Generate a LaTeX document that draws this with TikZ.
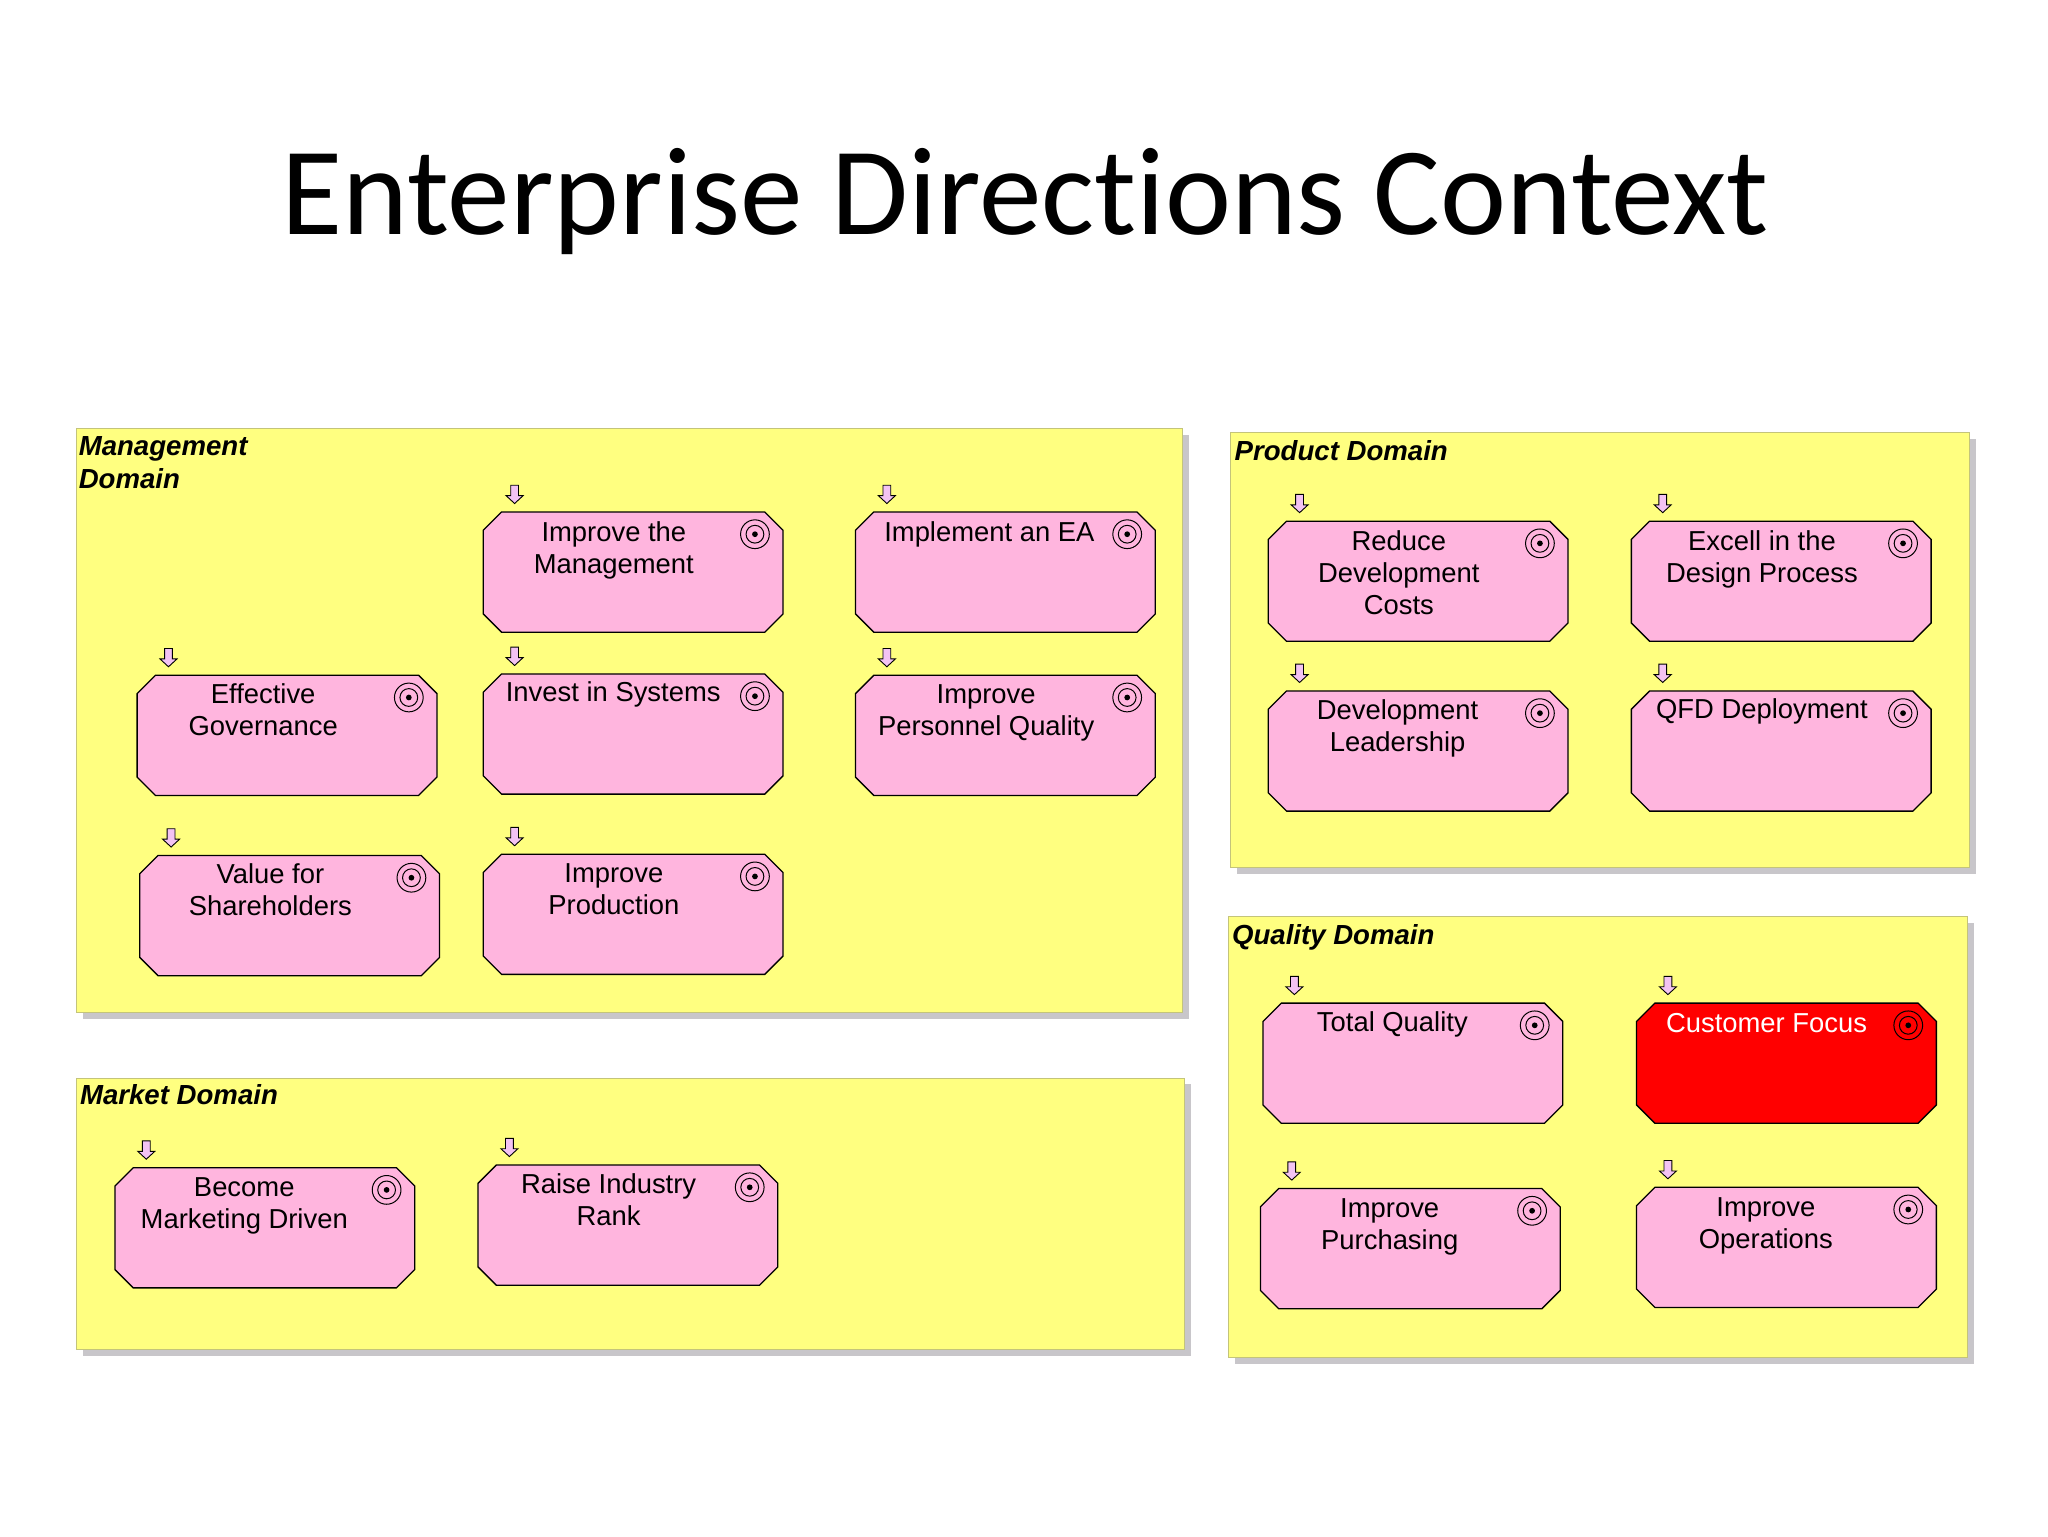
\documentclass[tikz,border=0pt]{standalone}
\usepackage{fontspec}
\setmainfont{Liberation Sans}
\newfontfamily\titlefont[Ligatures=NoCommon]{Carlito}
\definecolor{domainfill}{HTML}{FFFF80}
\definecolor{domainshadow}{HTML}{C8C6CA}
\definecolor{domainedge}{HTML}{C4C47A}
\definecolor{goalpink}{HTML}{FFB5DE}
\definecolor{arrowpink}{HTML}{F3C3F3}
\definecolor{goalred}{HTML}{FF0000}
\tikzset{
  x=0.65306pt,y=-0.65306pt,
  domainbox/.style={draw=domainedge,line width=0.35pt,fill=domainfill,anchor=north west,inner sep=0pt},
  domainshade/.style={fill=domainshadow,draw=none,anchor=north west,inner sep=0pt},
  domainlabel/.style={anchor=north west,inner sep=0pt,align=left,font=\fontsize{13.8}{16.5}\selectfont\bfseries\itshape,execute at begin node=\strut},
  goalbox/.style={draw=black,line width=0.65pt,fill=goalpink,line join=miter},
  goaltext/.style={anchor=north,inner sep=0pt,align=center,font=\fontsize{13.7}{16}\selectfont,execute at begin node=\strut},
  targetring/.style={draw=black,line width=0.5pt,fill=none},
  smallarrow/.style={draw=black,line width=0.45pt,fill=arrowpink,line join=miter},
}
% #1 name, #2 left, #3 top, #4 text centre x, #5 text, #6 extra box style, #7 text colour, #8 text offset
\newcommand{\goalitem}[8]{%
  \draw[goalbox,#6] (#2+14,#3) -- (#2+215.5,#3) -- (#2+229.5,#3+14) -- (#2+229.5,#3+78) -- (#2+215.5,#3+92)
     -- (#2+14,#3+92) -- (#2,#3+78) -- (#2,#3+14) -- cycle;
  \node[goaltext,text=#7] (#1t) at (#4,#3+6+#8) {#5};
  \draw[smallarrow] (#2+21,#3-20.5) -- (#2+27,#3-20.5) -- (#2+27,#3-12.5) -- (#2+30.5,#3-12.5)
     -- (#2+24,#3-6.5) -- (#2+17.5,#3-12.5) -- (#2+21,#3-12.5) -- cycle;
  \draw[targetring] (#2+208,#3+17) circle[radius=11];
  \draw[targetring] (#2+208,#3+17) circle[radius=6.8];
  \fill[black] (#2+208,#3+17) circle[radius=2.2];
}
\begin{document}
\begin{tikzpicture}
\useasboundingbox (0,0) rectangle (1568,1176);
\fill[white] (0,0) rectangle (1568,1176);
\node[anchor=center,inner sep=0pt,font=\titlefont\fontsize{62.6}{70}\selectfont] (title) at (785,154) {Enterprise Directions Context};

% Domains: shadow and panel
\node[domainshade,minimum width=553pt,minimum height=292pt] (s1) at (63,333) {};
\node[domainbox,minimum width=553pt,minimum height=292pt] (d1) at (58,328) {};
\node[domainshade,minimum width=554pt,minimum height=135.5pt] (s2) at (63,830) {};
\node[domainbox,minimum width=554pt,minimum height=135.5pt] (d2) at (58,825) {};
\node[domainshade,minimum width=369.4pt,minimum height=217.3pt] (s3) at (947,336) {};
\node[domainbox,minimum width=369.4pt,minimum height=217.3pt] (d3) at (942,331) {};
\node[domainshade,minimum width=369.4pt,minimum height=220.7pt] (s4) at (945,706) {};
\node[domainbox,minimum width=369.4pt,minimum height=220.7pt] (d4) at (940,701) {};

\node[domainlabel] (l1) at (60,334) {Management\\Domain};
\node[domainlabel] (l2) at (61,828) {Market Domain};
\node[domainlabel] (l3) at (945,334.5) {Product Domain};
\node[domainlabel] (l4) at (943,705) {Quality Domain};

% Management Domain
\goalitem{a}{370}{392}{470}{Improve the\\Management}{}{black}{1}
\goalitem{b}{655}{392}{757.5}{Implement an EA}{}{black}{-1}
\goalitem{c}{105}{517}{201.5}{Effective\\Governance}{}{black}{0}
\goalitem{d}{370}{516}{469.5}{Invest in Systems}{}{black}{-2}
\goalitem{e}{655}{517}{755}{Improve\\Personnel Quality}{}{black}{1}
\goalitem{f}{107}{655}{207}{Value for\\Shareholders}{}{black}{0}
\goalitem{g}{370}{654}{470}{Improve\\Production}{}{black}{1}
% Market Domain
\goalitem{h}{88}{894}{187}{Become\\Marketing Driven}{}{black}{1.5}
\goalitem{i}{366}{892}{466}{Raise Industry\\Rank}{}{black}{0}
% Product Domain
\goalitem{j}{971}{399}{1071}{Reduce\\Development\\Costs}{}{black}{1}
\goalitem{k}{1249}{399}{1349}{Excell in the\\Design Process}{}{black}{1}
\goalitem{m}{971}{529}{1070}{Development\\Leadership}{}{black}{0}
\goalitem{n}{1249}{529}{1349}{QFD Deployment}{}{black}{-2}
% Quality Domain
\goalitem{o}{967}{768}{1066}{Total Quality}{}{black}{-2}
\goalitem{p}{1253}{768}{1352.5}{Customer Focus}{fill=goalred}{white}{-1}
\goalitem{q}{965}{910}{1064}{Improve\\Purchasing}{}{black}{1.5}
\goalitem{r}{1253}{909}{1352}{Improve\\Operations}{}{black}{1.5}
\end{tikzpicture}
\end{document}
